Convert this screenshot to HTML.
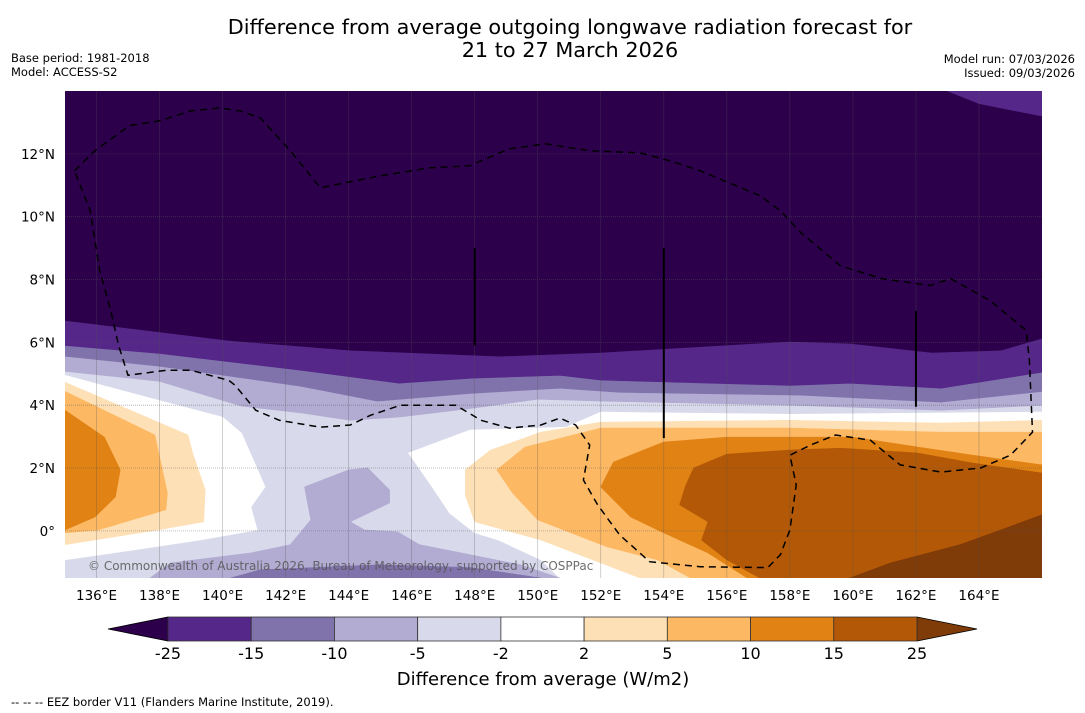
<!DOCTYPE html>
<html><head><meta charset="utf-8"><style>
html,body{margin:0;padding:0;background:#fff;}
svg{display:block;font-family:"DejaVu Sans","Liberation Sans",sans-serif;}
</style></head><body>
<svg id="chart" width="1085" height="713" viewBox="0 0 1085 713" xmlns="http://www.w3.org/2000/svg">
<defs><clipPath id="clip"><rect x="65" y="91" width="977" height="487"/></clipPath></defs>
<text x="570" y="34" text-anchor="middle" font-size="20.8">Difference from average outgoing longwave radiation forecast for</text>
<text x="570" y="57" text-anchor="middle" font-size="20.8">21 to 27 March 2026</text>
<text x="11" y="62" font-size="11.5">Base period: 1981-2018</text>
<text x="11" y="76" font-size="11.5">Model: ACCESS-S2</text>
<text x="1075" y="63" font-size="11.5" text-anchor="end">Model run: 07/03/2026</text>
<text x="1075" y="77" font-size="11.5" text-anchor="end">Issued: 09/03/2026</text>
<g id="plot" clip-path="url(#clip)"></g>
<g id="axes"></g>
<g id="cbar"></g>
<text x="543" y="685" text-anchor="middle" font-size="18">Difference from average (W/m2)</text>
<text x="11" y="706" font-size="11.5">--  --  -- EEZ border V11 (Flanders Marine Institute, 2019).</text>
</svg>
<script>
const levels = [-25,-15,-10,-5,-2,2,5,10,15,25];
const colors = ["#2d004b","#542788","#8073ac","#b2abd2","#d8daeb","#ffffff","#fee0b6","#fdb863","#e08214","#b35806","#7f3b08"];
const lonTicks = [136,138,140,142,144,146,148,150,152,154,156,158,160,162,164];
const latTicks = [0,2,4,6,8,10,12];
const bandBase = {c:"#d8daeb", pts:[[135,14],[166,14],[166,-1.5],[135,-1.5]]};
const bandWhiteLeft = {c:"#ffffff", pts:[[135,4.95],[137.95,4.16],[140,3.62],[140.6,3.11],[141.35,1.4],[140.9,0.76],[141.1,0.03],[139.3,-0.29],[136.75,-0.67],[135,-0.92]]};
const bandWhiteRight = {c:"#ffffff", pts:[[145.9,2.48],[147.85,3.21],[150.9,3.3],[152,3.78],[158,3.71],[166,3.78],[166,-1.5],[150.7,-1.5],[150.1,-0.92],[148.75,-0.29],[148,-0.06],[147.2,0.57],[146.65,1.4]]};
const bandP2Right = {c:"#fee0b6", pts:[[147.7,1.94],[148.5,2.57],[150.1,3.14],[152,3.46],[158,3.52],[162.8,3.43],[166,3.52],[166,-1.5],[153.25,-1.5],[150.1,-0.29],[148,0.29],[147.7,1.14]]};
const bandP5Right = {c:"#fdb863", pts:[[148.7,1.94],[149.6,2.67],[150.1,2.79],[152,3.27],[158,3.27],[162.8,3.14],[166,3.14],[166,-1.5],[154.85,-1.5],[153.8,-0.92],[152.2,-0.51],[150,0.35],[149.2,1.21]]};
const bandP10Right = {c:"#e08214", pts:[[152,1.4],[152.4,2.19],[154,2.83],[156,2.98],[160,2.98],[162.05,2.67],[163.8,2.41],[166,2.1],[166,-1.5],[156.65,-1.5],[155.4,-0.7],[154,-0.06],[152.95,0.44]]};
const bandP15Right = {c:"#b35806", pts:[[154.95,2.0],[156,2.44],[158,2.57],[159.6,2.63],[162.05,2.48],[163.8,2.16],[166,1.84],[166,-1.5],[157.05,-1.5],[156,-0.92],[155.2,-0.29],[155.4,0.29],[154.5,0.83],[154.7,1.46]]};
const bandP25Right = {c:"#7f3b08", pts:[[159.9,-1.5],[161.2,-1.02],[163.4,-0.44],[164.7,0.03],[166,0.51],[166,-1.5]]};
const bandP2Left = {c:"#fee0b6", pts:[[135,4.73],[138.9,3.05],[139.05,2.48],[139.45,1.3],[139.4,0.29],[137.95,0.03],[135,-0.44]]};
const bandP5Left = {c:"#fdb863", pts:[[135,4.44],[137.85,3.05],[138.25,1.21],[138.2,0.67],[136.05,0.03],[135,-0.06]]};
const bandP10Left = {c:"#e08214", pts:[[135,3.84],[136.25,2.98],[136.75,1.94],[136.6,1.08],[135.95,0.44],[135,0.03]]};
const bandM5Bottom = {c:"#b2abd2", pts:[[137.7,-1.5],[138.35,-1.02],[140.9,-0.7],[142.15,-0.44],[142.8,0.35],[142.6,1.4],[144,1.94],[144.6,2.0],[145.3,1.3],[145.3,0.89],[144.05,0.29],[144.5,0.03],[145.55,-0.03],[146.25,-0.44],[147.85,-0.76],[149.45,-1.08],[150.7,-1.5]]};
const bandM10Bottom = {c:"#8073ac", pts:[[140.25,-1.5],[141.2,-1.24],[145,-1.08],[147.85,-1.17],[150.1,-1.5]]};
const edgeM5 = [[135,5.08],[138,4.76],[140.6,3.97],[142.5,3.75],[144.05,3.52],[145.6,3.62],[147.9,3.9],[150,4.19],[152,4.13],[158,4.0],[162.8,3.84],[166,4.0]];
const edgeM10 = [[135,5.56],[138,5.24],[142.5,4.6],[144.9,4.13],[147.9,4.38],[150.7,4.54],[152.6,4.41],[158.3,4.32],[162.8,4.1],[166,4.44]];
const edgeM15 = [[135,5.9],[138,5.65],[142.5,5.11],[145.6,4.7],[147.9,4.86],[150.7,4.95],[152,4.8],[158,4.63],[159.9,4.7],[162.8,4.54],[166,5.05]];
const edgeM25 = [[135,6.7],[140.2,6.06],[144.05,5.75],[148.8,5.56],[152,5.68],[158,6.03],[159.9,5.97],[162.5,5.68],[164.7,5.75],[166,6.13]];
const cornerM15 = [[163.0,14],[164.0,13.6],[165.0,13.4],[166,13.2],[166,14]];
const eez = [[135.3,11.46],[135.95,12.1],[137.05,12.9],[138,13.05],[139,13.37],[139.9,13.46],[140.55,13.37],[141.2,13.14],[142.15,12.1],[143.1,10.92],[145,11.3],[146.6,11.56],[147.85,11.62],[148.2,11.78],[149.1,12.16],[150.25,12.32],[151.65,12.1],[153.25,12.03],[154.2,11.78],[155.15,11.46],[157.05,10.67],[157.7,10.19],[158.35,9.49],[159.6,8.44],[160.9,8.03],[162.45,7.81],[163.1,8.03],[164.35,7.33],[165.5,6.38],[165.6,5.43],[165.7,3.14],[165,2.41],[164.05,2.0],[162.8,1.87],[161.5,2.1],[160.55,2.89],[159.45,3.05],[158.65,2.73],[158,2.41],[158.2,1.46],[158,0.03],[157.7,-0.76],[157.3,-1.17],[155.15,-1.14],[153.55,-0.98],[152.6,-0.13],[151.9,0.83],[151.45,1.62],[151.65,2.73],[151.2,3.37],[150.7,3.59],[150.1,3.37],[149.1,3.27],[148.2,3.52],[147.4,4.0],[146.25,4.0],[145.65,4.0],[144.7,3.68],[144.05,3.37],[143.1,3.3],[141.8,3.52],[141.05,3.84],[140.4,4.63],[140.2,4.79],[139,5.11],[138.2,5.11],[137,4.95],[136.7,5.9],[136.45,7.02],[136.1,8.29],[135.95,9.24],[135.8,10.19],[135.3,11.46]];
const meridians = [[148,9,5.9],[154,9,2.95],[162,7,3.95]];

const NS="http://www.w3.org/2000/svg";
const X0=65,X1=1042,Y0=91,Y1=578,LON0=135,LON1=166,LAT0=-1.5,LAT1=14;
function sx(lon){return X0+(lon-LON0)/(LON1-LON0)*(X1-X0);}
function sy(lat){return Y1-(lat-LAT0)/(LAT1-LAT0)*(Y1-Y0);}
function mk(tag,attrs,parent){const e=document.createElementNS(NS,tag);for(const k in attrs)e.setAttribute(k,attrs[k]);parent.appendChild(e);return e;}
function ptsStr(a){return a.map(p=>sx(p[0]).toFixed(1)+","+sy(p[1]).toFixed(1)).join(" ");}
const plot=document.getElementById("plot");
function band(b,name){const e=mk("polygon",{points:ptsStr(b.pts),fill:b.c,stroke:b.c,"stroke-width":0.6},plot);

}
function topBand(edge,c,name){const e=mk("polygon",{points:ptsStr([[LON0,LAT1]].concat(edge,[[LON1,LAT1]])),fill:c,stroke:c,"stroke-width":0.6},plot);

}
band(bandBase,"band-minus5-to-minus2");
band(bandWhiteLeft,"band-neutral-west");
band(bandWhiteRight,"band-neutral-east");
band(bandP2Right,"band-2-to-5-east");
band(bandP5Right,"band-5-to-10-east");
band(bandP10Right,"band-10-to-15-east");
band(bandP15Right,"band-15-to-25-east");
band(bandP25Right,"band-above-25-east");
band(bandP2Left,"band-2-to-5-west");
band(bandP5Left,"band-5-to-10-west");
band(bandP10Left,"band-10-to-15-west");
band(bandM5Bottom,"band-minus10-to-minus5-south");
band(bandM10Bottom,"band-minus15-to-minus10-south");
topBand(edgeM5,"#b2abd2","band-minus10-to-minus5-north");
topBand(edgeM10,"#8073ac","band-minus15-to-minus10-north");
topBand(edgeM15,"#542788","band-minus25-to-minus15-north");
topBand(edgeM25,"#2d004b","band-below-minus25-north");
band({c:"#542788",pts:cornerM15},"band-minus25-to-minus15-corner");
lonTicks.forEach(l=>{const g=mk("line",{x1:sx(l),x2:sx(l),y1:Y0,y2:Y1,stroke:"#555","stroke-width":0.6,"stroke-opacity":0.45},plot);

});
latTicks.forEach(l=>{const g=mk("line",{x1:X0,x2:X1,y1:sy(l),y2:sy(l),stroke:"#555","stroke-width":0.8,"stroke-dasharray":"1,1","stroke-opacity":0.5},plot);

});
const ez=mk("polyline",{points:ptsStr(eez),fill:"none",stroke:"#000","stroke-width":1.5,"stroke-dasharray":"7,5"},plot);


meridians.forEach(m=>{const l=mk("line",{x1:sx(m[0]),x2:sx(m[0]),y1:sy(m[1]),y2:sy(m[2]),stroke:"#000","stroke-width":2},plot);

});
const cp=mk("text",{x:88,y:570,"font-size":12,fill:"#555","fill-opacity":0.85},plot);
cp.textContent="© Commonwealth of Australia 2026, Bureau of Meteorology, supported by COSPPac";


const axes=document.getElementById("axes");


lonTicks.forEach(l=>{const t=mk("text",{x:sx(l),y:600,"text-anchor":"middle","font-size":13.5},axes);t.textContent=l+"°E";

});
latTicks.forEach(l=>{const t=mk("text",{x:55,y:sy(l)+5,"text-anchor":"end","font-size":13.5},axes);t.textContent=l===0?"0°":l+"°N";

});
const cb=document.getElementById("cbar");
const CB0=168,CB1=917,CBT=617,CBB=641,segW=(CB1-CB0)/(levels.length-1);
const lt=mk("polygon",{points:`108,629 ${CB0},${CBT} ${CB0},${CBB}`,fill:colors[0],stroke:"#000","stroke-width":0.8},cb);


const rt=mk("polygon",{points:`${CB1},${CBT} 977,629 ${CB1},${CBB}`,fill:colors[colors.length-1],stroke:"#000","stroke-width":0.8},cb);


for(let i=0;i<levels.length-1;i++){const r=mk("rect",{x:CB0+i*segW,y:CBT,width:segW,height:CBB-CBT,fill:colors[i+1],stroke:"#333","stroke-width":0.8},cb);

}
levels.forEach((v,i)=>{const t=mk("text",{x:CB0+i*segW,y:659,"text-anchor":"middle","font-size":16},cb);t.textContent=v;

});
</script>
</body></html>
